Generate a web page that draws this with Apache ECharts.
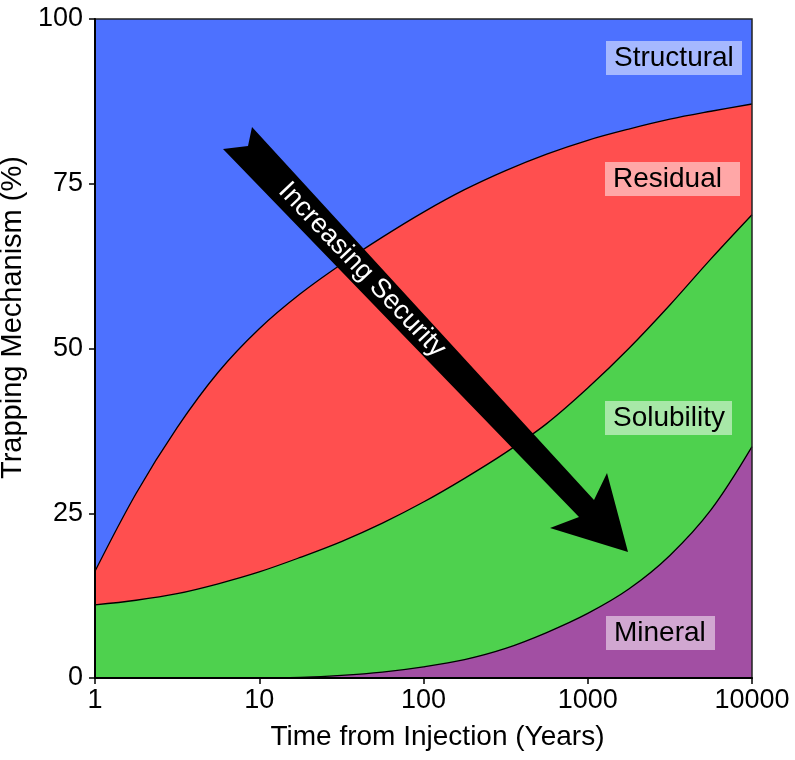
<!DOCTYPE html>
<html>
<head>
<meta charset="utf-8">
<script src="https://cdn.jsdelivr.net/npm/echarts@6/dist/echarts.min.js"></script>
<style>html,body{margin:0;padding:0;background:#fff}#c{width:795px;height:760px}</style>
</head>
<body>
<div id="c"></div>
<script>
// Time from injection (years), sampled at equal steps on the log axis
const years = [1, 1.778, 3.162, 5.623, 10, 17.78, 31.62, 56.23, 100, 177.8, 316.2, 562.3, 1000, 1778, 3162, 5623, 10000];
// Cumulative upper boundaries of each trapping layer (%)
const structuralTop = [100, 100, 100, 100, 100, 100, 100, 100, 100, 100, 100, 100, 100, 100, 100, 100, 100];
const residualTop = [16.2, 28.0, 38.0, 46.4, 53.0, 58.3, 62.8, 66.9, 70.7, 74.1, 77.0, 79.5, 81.6, 83.3, 84.8, 86.0, 87.1];
const solubilityTop = [11.1, 11.8, 12.8, 14.3, 16.1, 18.3, 20.7, 23.5, 26.7, 30.3, 34.2, 38.6, 44.0, 50.0, 56.6, 63.6, 70.3];
const mineralTop = [0, 0, 0, 0, 0, 0.1, 0.4, 0.9, 1.7, 2.8, 4.5, 6.9, 9.8, 13.5, 18.6, 25.5, 35.1];
const xTickLabels = ['1', '10', '100', '1000', '10000'];
const yTickLabels = ['0', '25', '50', '75', '100'];
const layerNames = ['Structural', 'Residual', 'Solubility', 'Mineral'];
const layerColors = ['#4D71FF', '#FF4F4F', '#4ED14E', '#A24FA3'];

const FONT = '"Liberation Sans", Arial, sans-serif';
const chart = echarts.init(document.getElementById('c'), null, {renderer: 'canvas'});

function pairs(ys) { return years.map((x, i) => [x, ys[i]]); }
const layers = [structuralTop, residualTop, solubilityTop, mineralTop];

const series = layers.map((ys, i) => ({
  name: layerNames[i],
  type: 'line',
  data: pairs(ys),
  smooth: 0.35,
  symbol: 'none',
  lineStyle: {color: '#000', width: i === 0 ? 0 : 1.3},
  areaStyle: {color: layerColors[i], opacity: 1, origin: 'start'},
  silent: true,
  z: 2
}));

const option = {
  animation: false,
  backgroundColor: '#fff',
  grid: {left: 95, right: 43, top: 19, bottom: 82, show: true, borderColor: '#222', borderWidth: 1.5,
    backgroundColor: 'transparent', containLabel: false, outerBoundsMode: 'none', z: 5},
  xAxis: {
    type: 'log', logBase: 10, min: 1, max: 10000,
    name: 'Time from Injection (Years)', nameLocation: 'middle', nameGap: 45,
    nameTextStyle: {fontFamily: FONT, fontSize: 28, color: '#000', padding: [0, 0, 0, 28]},
    axisLine: {show: true, lineStyle: {color: '#000', width: 2}},
    axisTick: {show: true, length: 6, lineStyle: {color: '#000', width: 1.5}},
    minorTick: {show: false},
    splitLine: {show: false},
    axisLabel: {fontFamily: FONT, fontSize: 27, color: '#000', margin: 9,
      formatter: v => { const k = Math.round(Math.log10(v)); return xTickLabels[k] !== undefined ? xTickLabels[k] : ''; }},
    z: 10
  },
  yAxis: {
    type: 'value', min: 0, max: 100, interval: 25,
    name: 'Trapping Mechanism (%)', nameLocation: 'middle', nameGap: 52,
    nameTextStyle: {fontFamily: FONT, fontSize: 29, color: '#000', padding: [0, 0, 0, 62]},
    axisLine: {show: true, lineStyle: {color: '#000', width: 2}},
    axisTick: {show: true, length: 6, lineStyle: {color: '#000', width: 1.5}},
    splitLine: {show: false},
    axisLabel: {fontFamily: FONT, fontSize: 27, color: '#000', margin: 12,
      formatter: v => yTickLabels[Math.round(v / 25)]},
    z: 10
  },
  series: series
};
chart.setOption(option);

// Annotations: layer label boxes and the "Increasing Security" arrow
const labelBoxes = [
  {text: 'Structural', x: 606, y: 41, w: 136},
  {text: 'Residual', x: 605, y: 162, w: 135},
  {text: 'Solubility', x: 605, y: 401, w: 127},
  {text: 'Mineral', x: 606, y: 616, w: 109}
];
const graphics = [];
labelBoxes.forEach(b => {
  graphics.push({type: 'rect', z: 20, shape: {x: b.x, y: b.y, width: b.w, height: 34},
    style: {fill: 'rgba(255,255,255,0.5)'}});
  graphics.push({type: 'text', z: 21, x: b.x + 8, y: b.y + 17,
    style: {text: b.text, fontFamily: FONT, fontSize: 28, fill: '#000', textAlign: 'left', textVerticalAlign: 'middle'}});
});
graphics.push({type: 'polygon', z: 22, shape: {points: [
  [252, 127], [594, 500], [607, 473], [628, 552], [550, 528], [579, 517], [223, 149], [248, 146]
]}, style: {fill: '#000'}});
graphics.push({type: 'text', z: 23, x: 362, y: 270, rotation: -46.5 * Math.PI / 180,
  style: {text: 'Increasing Security', fontFamily: FONT, fontSize: 27, fill: '#fff', textAlign: 'center', textVerticalAlign: 'middle'}});
chart.setOption({graphic: graphics});
</script>
</body>
</html>
